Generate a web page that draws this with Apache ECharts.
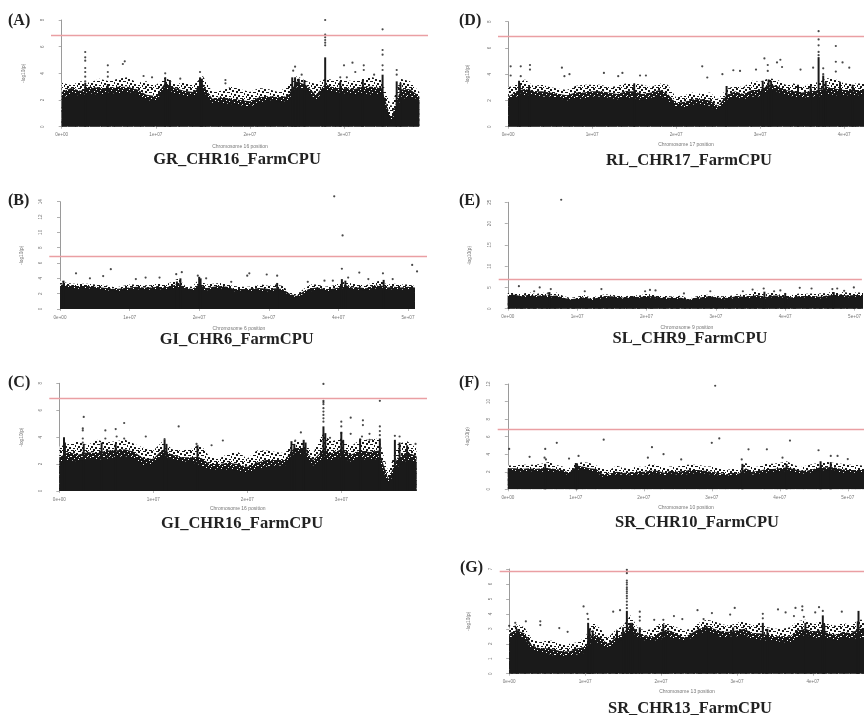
<!DOCTYPE html>
<html><head><meta charset="utf-8">
<style>html,body{margin:0;padding:0;background:#fff;overflow:hidden}#c{width:864px;height:715px;filter:blur(0.65px)}</style>
<script src="https://cdn.jsdelivr.net/npm/echarts@6/dist/echarts.min.js"></script>
</head><body><div id="c"></div>
<script>
// Positions are in units of 1e7 bp, sampled every 0.1 for the band arrays.
const bandA=[2.1,2.5,2.3,2.5,2.4,2.5,2.5,2.6,2.5,2.0,1.9,2.9,2.5,2.3,2.3,2.7,1.8,1.8,1.7,1.6,1.5,1.8,2.0,1.9,1.9,3.0,2.8,2.0,2.8,2.5,2.5,2.4,2.5,2.4,2.5,0.3,2.0,2.3,2.0];
const midA=[2.6,2.9,2.7,3.0,2.9,2.9,3.0,3.0,2.8,2.4,2.3,3.3,2.9,2.7,2.6,3.2,2.1,2.2,2.1,2.0,1.9,2.2,2.3,2.2,2.3,3.4,3.1,2.4,3.2,2.9,2.9,2.8,3.0,3.0,2.9,0.6,2.8,2.8,2.3];
const fringeA=[3.3,3.1,3.4,3.3,3.6,3.4,3.6,3.7,3.3,3.4,3.1,3.7,3.2,3.3,3.1,3.8,2.6,2.7,3.0,2.8,2.6,2.9,2.8,2.6,3.0,3.8,3.4,3.2,3.6,3.5,3.5,3.4,3.6,3.7,3.5,1.5,3.6,3.4,2.6];
const streakA=[[0.25,3.3],[0.49,3.2],[1.1,3.7],[1.15,3.5],[1.47,3.7],[1.49,3.6],[2.45,3.7],[2.48,3.7],[2.52,3.6],[2.58,3.5],[2.8,5.2],[2.96,3.4],[3.2,3.5],[3.41,3.9],[3.56,3.4],[3.6,3.3]];
const pointsA=[[2.8,8],[3.41,7.3],[2.8,6.9],[2.8,6.7],[2.8,6.5],[2.8,6.3],[2.8,6.1],[3.41,5.75],[3.41,5.4],[3.41,4.6],[3.41,4.25],[0.25,5.6],[0.25,5.2],[0.25,4.95],[0.25,4.4],[0.25,4.1],[0.25,3.75],[0.25,3.4],[0.49,4.6],[0.49,4.1],[0.49,3.75],[0.67,4.9],[0.65,4.7],[1.1,4],[1.47,4.1],[2.48,4.5],[2.46,4.2],[2.55,3.9],[1.74,3.5],[1.74,3.25],[3,4.6],[3.09,4.8],[3.21,4.6],[3.21,4.25],[3.12,4.1],[3.56,4.25],[3.56,3.9],[3.32,3.9],[0.87,3.8],[0.96,3.7],[1.26,3.6],[2.96,3.7],[3.03,3.7]];

const bandB=[2.8,2.8,2.7,2.6,2.7,2.6,2.5,2.4,2.3,2.4,2.5,2.6,2.5,2.5,2.6,2.5,2.6,2.7,2.6,2.4,2.7,2.4,2.6,2.7,2.6,2.3,2.4,2.3,2.4,2.3,2.3,2.4,2.3,1.8,1.5,2.0,2.3,2.5,2.3,2.3,2.5,2.7,2.5,2.5,2.4,2.6,2.8,2.5,2.6,2.5,2.6,2.6];
const midB=[3.2,3.1,3.0,3.0,3.0,2.9,2.8,2.7,2.6,2.7,2.8,2.9,2.8,2.8,2.9,2.8,3.0,3.3,2.8,2.6,3.2,2.7,2.9,3.0,2.9,2.6,2.6,2.6,2.7,2.7,2.6,2.7,2.6,2.0,1.7,2.3,2.7,2.8,2.6,2.6,2.8,3.1,2.8,2.8,2.7,3.0,3.1,2.8,2.9,2.8,2.9,2.8];
const fringeB=[3.7,3.4,3.3,3.3,3.3,3.2,3.2,3.0,2.8,3.0,3.2,3.2,3.1,3.1,3.3,3.2,3.5,4.0,3.0,2.9,3.9,3.2,3.3,3.4,3.2,3.0,2.9,2.9,3.0,3.2,3.0,3.2,3.0,2.2,1.9,2.6,3.2,3.2,2.9,3.0,3.3,3.6,3.3,3.2,3.1,3.5,3.7,3.2,3.3,3.2,3.2,3.0];
const streakB=[[0.05,3.7],[1.73,4.0],[2.0,4.2],[2.02,4.0],[1.68,3.6],[3.12,3.4],[4.05,3.9],[4.65,3.8],[4.1,3.7]];
const pointsB=[[3.94,14.7],[4.06,9.6],[4.05,5.25],[5.06,5.75],[5.13,4.9],[0.73,5.2],[0.23,4.65],[0.62,4.3],[1.67,4.55],[1.75,4.8],[2.72,4.65],[2.69,4.35],[2.97,4.5],[3.12,4.35],[4.3,4.75],[4.64,4.65],[4.43,3.9],[4.14,4.1],[1.23,4.1],[1.09,3.9],[1.43,4.1],[2.1,4],[1.98,4.35],[0.43,4],[4.78,3.9],[3.8,3.7],[3.92,3.7],[3.56,3.55],[2.46,3.55]];

const bandC=[2.0,2.3,2.2,2.4,2.3,2.4,2.5,2.6,2.4,1.9,2.0,2.6,2.4,2.2,2.2,1.9,1.6,1.6,1.6,1.5,1.4,1.6,1.8,1.9,1.9,2.7,2.8,1.9,2.4,2.3,2.5,2.2,2.4,2.3,2.4,0.5,1.8,2.3,2.2];
const midC=[2.5,2.9,2.7,2.9,2.8,3.0,3.0,3.1,2.9,2.4,2.4,3.1,2.7,2.5,2.5,2.5,2.0,2.0,2.1,2.0,1.8,2.1,2.3,2.3,2.3,3.2,3.2,2.3,3.0,2.8,3.1,2.7,3.0,2.9,3.0,0.9,2.5,2.9,2.6];
const fringeC=[3.3,3.5,3.7,3.4,3.8,3.6,3.7,3.8,3.5,3.2,3.0,3.7,3.1,3.0,3.1,3.5,2.5,2.4,2.8,2.9,2.4,3.0,3.0,2.9,2.8,3.7,3.6,2.8,4.2,3.7,3.9,3.3,3.8,3.8,3.9,1.4,3.5,3.7,3.2];
const streakC=[[0.05,4.0],[0.06,3.6],[0.26,3.5],[0.45,3.6],[0.6,3.5],[1.12,3.8],[1.14,3.5],[1.47,3.4],[2.47,3.7],[2.5,3.5],[2.6,3.8],[2.62,3.6],[2.81,4.8],[2.83,4.3],[3.0,4.4],[3.02,3.8],[3.2,3.9],[3.41,3.9],[3.57,3.8],[3.62,3.6],[3.7,3.4]];
const pointsC=[[2.81,7.95],[3.41,6.7],[2.81,6.7],[2.81,6.6],[2.81,6.45],[2.81,6.15],[2.81,5.9],[2.81,5.65],[2.81,5.4],[2.81,5.15],[0.26,5.5],[0.25,4.65],[0.25,4.5],[0.25,3.9],[0.25,3.6],[0.49,4.5],[0.49,3.9],[0.6,4.6],[0.69,5.05],[0.61,4.05],[0.69,3.9],[0.92,4.05],[1.27,4.8],[1.74,3.75],[1.12,3.85],[1.62,3.4],[1.46,3.5],[2.57,4.35],[2.51,3.75],[3,5.15],[3,4.8],[3,4.3],[3.1,5.45],[3.1,4.25],[3.23,5.25],[3.23,4.9],[3.22,4.05],[3.3,4.25],[3.3,3.8],[3.41,4.8],[3.41,4.45],[3.41,4.15],[3.57,4.1],[3.62,4.05],[3.79,3.5],[2.88,3.95]];

const bandD=[1.9,2.3,2.4,2.4,2.3,2.3,2.2,2.0,2.2,2.1,2.3,2.3,2.2,2.1,2.2,2.2,2.0,2.2,2.4,2.0,1.5,1.5,1.7,1.7,1.6,1.3,2.0,2.3,2.1,2.3,2.3,2.7,2.7,2.4,2.3,2.2,2.3,2.3,2.5,2.4,2.4,2.4,2.4,2.4];
const midD=[2.3,2.7,2.9,2.7,2.7,2.6,2.5,2.4,2.6,2.6,2.7,2.7,2.6,2.5,2.7,2.7,2.5,2.6,2.8,2.5,1.8,1.9,2.1,2.1,2.0,1.6,2.4,2.7,2.5,2.8,2.8,3.2,3.1,2.8,2.7,2.6,2.7,2.8,3.0,2.9,2.8,2.8,2.8,2.8];
const fringeD=[3.0,3.2,3.6,3.1,3.2,3.0,2.9,2.8,3.1,3.2,3.2,3.2,3.0,3.1,3.3,3.3,3.2,3.0,3.3,3.2,2.2,2.4,2.6,2.5,2.6,2.1,2.9,3.1,3.0,3.5,3.4,3.7,3.6,3.2,3.3,3.0,3.3,3.4,3.7,3.6,3.3,3.3,3.3,3.3];
const streakD=[[0.13,3.5],[0.14,3.3],[0.25,3.1],[1.5,3.3],[2.6,3.1],[3.03,3.5],[3.1,3.6],[3.13,3.5],[3.45,3.2],[3.6,3.1],[3.695,5.3],[3.75,3.9],[3.78,3.4],[3.95,3.4],[4.1,3.2]];
const pointsD=[[0.03,4.6],[0.03,3.9],[0.15,4.6],[0.15,3.85],[0.26,4.7],[0.26,4.35],[0.64,4.5],[0.67,3.85],[0.73,4],[1.14,4.1],[1.36,4.1],[1.31,3.85],[1.57,3.9],[1.64,3.9],[2.31,4.6],[2.37,3.75],[2.55,4],[2.68,4.3],[2.76,4.25],[2.95,4.35],[3.05,5.2],[3.09,4.7],[3.09,4.25],[3.2,4.9],[3.24,5.1],[3.26,4.55],[3.48,4.35],[3.63,4.5],[3.695,7.28],[3.695,6.65],[3.695,6.2],[3.695,5.7],[3.695,5.45],[3.9,6.15],[3.9,4.95],[3.98,4.9],[4.06,4.5],[3.9,4.2],[3.75,4.45],[3.75,4]];

const bandE=[2.9,3.0,2.6,2.9,2.7,2.8,2.7,2.7,2.3,2.0,2.1,2.4,2.0,2.3,2.5,2.6,2.5,2.3,2.6,2.4,2.7,2.6,2.3,2.3,2.2,2.3,1.9,2.2,2.4,2.6,2.4,2.2,2.3,2.6,2.5,2.5,2.7,2.4,2.7,2.8,2.5,2.4,2.6,2.7,2.5,2.4,2.7,2.8,2.9,2.7,2.8,2.8,2.8];
const midE=[3.2,3.3,2.9,3.3,3.0,3.2,3.0,3.1,2.6,2.2,2.4,2.7,2.3,2.6,2.9,2.9,2.7,2.6,2.9,2.7,3.0,2.9,2.6,2.6,2.5,2.6,2.1,2.5,2.7,2.9,2.7,2.5,2.6,3.0,2.8,2.9,3.2,2.7,3.1,3.1,2.8,2.7,3.0,3.0,2.9,2.8,3.1,3.2,3.3,3.1,3.2,3.2,3.2];
const fringeE=[3.7,3.7,3.4,3.9,3.4,3.8,3.3,3.8,3.0,2.5,2.8,3.2,2.6,3.0,3.4,3.2,3.1,2.9,3.2,3.1,3.5,3.3,3.0,3.0,2.8,3.1,2.3,2.8,3.2,3.3,3.0,2.9,3.0,3.4,3.2,3.6,4.2,3.3,3.8,3.4,3.2,3.2,3.6,3.5,3.6,3.6,3.7,4.1,3.9,3.8,3.8,3.8,3.8];
const streakE=[[0.6,3.9],[3.7,4.0],[4.0,3.7],[4.7,3.9]];
const pointsE=[[0.77,25.6],[0.16,5.3],[0.46,5],[0.38,4.1],[0.62,4.6],[0.58,3.6],[1.11,4.1],[1.35,4.6],[1.98,4.1],[2.05,4.4],[2.13,4.3],[2.54,3.6],[2.92,4.1],[3.53,4.5],[3.39,4.1],[3.69,4.75],[4.21,4.9],[4.38,4.75],[4.75,4.75],[4.68,4.6],[4.99,5],[4.85,4.2],[3.84,4.1],[3.93,4.3]];

const bandF=[2.2,2.1,2.0,2.1,2.0,2.0,2.0,2.0,1.9,1.6,2.3,2.2,2.1,2.0,1.4,1.6,1.7,1.7,1.6,1.7,1.7,1.7,1.8,1.6,1.8,1.7,1.7,1.8,1.8,1.8,1.7,1.6,1.5,1.7,1.6,2.0,1.7,1.8,1.9,2.0,2.0,2.1,2.0,1.8,1.8,2.0,2.2,2.1,2.2,1.9,1.9,1.9,1.9,1.9];
const midF=[2.4,2.4,2.3,2.4,2.3,2.4,2.4,2.3,2.2,1.9,2.5,2.6,2.4,2.3,1.7,1.8,2.0,1.9,1.9,2.0,2.0,2.1,2.1,1.9,2.1,2.0,2.1,2.2,2.2,2.1,2.0,1.9,1.7,1.9,1.8,2.4,2.0,2.1,2.3,2.3,2.4,2.5,2.3,2.1,2.1,2.3,2.5,2.5,2.5,2.3,2.2,2.2,2.2,2.2];
const fringeF=[2.7,2.7,2.8,2.8,2.8,2.9,3.1,2.8,2.6,2.4,2.9,3.1,3.0,2.7,2.4,2.2,2.7,2.4,2.4,2.6,2.5,2.9,2.7,2.5,2.6,2.6,2.8,2.8,2.8,2.6,2.6,2.4,2.2,2.3,2.3,3.0,2.5,2.6,2.9,2.9,3.0,3.2,2.8,2.5,2.7,2.9,3.0,3.1,3.0,2.9,2.8,2.8,2.7,2.7];
const streakF=[[1.0,3.0],[1.02,2.8],[3.45,2.9],[4.1,2.9],[4.6,3.2],[4.75,3.1],[0.55,2.9]];
const pointsF=[[3.05,11.8],[3.11,5.8],[3,5.3],[0.02,4.6],[0.55,4.6],[0.72,5.3],[1.41,5.65],[2.12,4.8],[2.29,4],[3.54,4.55],[3.81,4.55],[4.15,5.55],[4.57,4.45],[0.54,3.6],[0.56,3.4],[2.06,3.6],[0.32,3.7],[1.04,3.8],[4.75,3.8],[4.85,3.8],[3.44,3.4],[4.04,3.6],[2.55,3.4],[5,3.45],[0.9,3.5]];

const bandG=[2.4,2.6,2.4,1.6,1.4,1.35,1.2,1.2,1.2,1.3,1.4,2.2,2.0,1.7,2.0,2.3,2.9,2.4,2.2,2.2,2.3,2.5,2.3,2.1,2.4,2.7,2.8,2.7,2.4,2.5,2.5,2.6,2.3,2.3,2.2,2.2,2.1,2.1,2.4,2.6,2.4,2.4,2.3,2.2,2.4,2.3,2.4,2.4];
const midG=[2.7,2.9,2.7,1.9,1.7,1.7,1.6,1.5,1.5,1.7,1.8,2.7,2.4,2.0,2.4,2.7,3.3,2.7,2.5,2.5,2.8,2.9,2.7,2.4,2.7,3.0,3.1,3.0,2.8,2.8,2.9,3.0,2.7,2.7,2.6,2.5,2.5,2.5,2.9,3.0,2.8,2.9,2.7,2.6,2.8,2.7,3.0,3.0];
const fringeG=[3.0,3.3,3.1,2.3,2.1,2.2,2.2,1.9,2.0,2.1,2.4,3.5,3.0,2.4,2.9,3.2,3.9,3.0,2.9,3.0,3.4,3.3,3.1,2.9,3.0,3.4,3.6,3.5,3.3,3.2,3.4,3.5,3.2,3.4,3.1,3.0,3.0,3.1,3.5,3.6,3.3,3.5,3.3,3.2,3.4,3.2,3.6,3.6];
const streakG=[[0.1,3.0],[1.04,3.4],[1.06,3.0],[1.1,2.9],[1.42,2.9],[1.5,3.1],[1.55,4.2],[1.6,3.4],[1.62,3.4],[1.72,3.1],[2.03,3.3],[2.06,2.9],[2.5,3.0],[2.6,3.2],[2.95,3.1],[3.34,3.4],[3.4,3.0],[3.9,3.4],[4.13,3.9],[4.15,3.3],[4.59,3.5],[4.6,4.2]];
const pointsG=[[1.55,6.95],[1.55,6.83],[1.55,6.72],[1.55,6.23],[1.55,6.09],[1.55,5.96],[1.55,5.78],[1.55,5.65],[1.55,5.51],[1.55,5.38],[1.55,5.2],[1.55,5.04],[1.55,4.82],[1.55,4.6],[1.55,4.38],[0.98,4.5],[1.03,4],[1.04,3.65],[1.37,4.15],[1.46,4.25],[1.72,4.15],[1.72,3.8],[1.72,3.55],[2.48,4.25],[2.67,4.05],[2.97,4.4],[2.91,3.95],[3.34,4],[3.34,3.7],[3.54,4.3],[3.64,4.1],[3.77,4.4],[3.86,4.5],[3.86,4.25],[3.75,3.85],[3.88,3.8],[4.08,4.45],[4.13,4.2],[4.03,4.1],[4.38,4.15],[0.08,3.4],[0.08,3.15],[0,3.2],[0.22,3.5],[0.41,3.5],[0.41,3.25],[0.66,3.05],[0.77,2.8],[2.28,3.65],[2.17,3.85],[2.56,3.65],[2.03,3.6],[1.91,3.6]];
const gapG=[0.33,0.407];

const thresholds={A:6.88,B:6.82,C:6.89,D:6.9,E:6.95,F:6.9,G:6.85};
const yTickSteps={A:2,B:2,C:2,D:2,E:5,F:2,G:1};
const yTops={A:8,B:14,C:8,D:8,E:25,F:12,G:7};
const xTicks={A:[0,1,2,3],B:[0,1,2,3,4,5],C:[0,1,2,3],D:[0,1,2,3,4],E:[0,1,2,3,4,5],F:[0,1,2,3,4,5],G:[0,1,2,3,4]};
const chrNames={A:'Chromosome 16 position',B:'Chromosome 6 position',C:'Chromosome 16 position',D:'Chromosome 17 position',E:'Chromosome 9 position',F:'Chromosome 10 position',G:'Chromosome 13 position'};
const plotTitles={A:'GR_CHR16_FarmCPU',B:'GI_CHR6_FarmCPU',C:'GI_CHR16_FarmCPU',D:'RL_CHR17_FarmCPU',E:'SL_CHR9_FarmCPU',F:'SR_CHR10_FarmCPU',G:'SR_CHR13_FarmCPU'};
const bands={A:bandA,B:bandB,C:bandC,D:bandD,E:bandE,F:bandF,G:bandG};
const mids={A:midA,B:midB,C:midC,D:midD,E:midE,F:midF,G:midG};
const fringes={A:fringeA,B:fringeB,C:fringeC,D:fringeD,E:fringeE,F:fringeF,G:fringeG};
const streaks={A:streakA,B:streakB,C:streakC,D:streakD,E:streakE,F:streakF,G:streakG};
const pointSets={A:pointsA,B:pointsB,C:pointsC,D:pointsD,E:pointsE,F:pointsF,G:pointsG};

// layout only (pixels)
const layout={
 A:{ax:51,x0:61.7,per:94.1,top:20,zero:126.7,right:428,lx:8,ly:21,tx:237,ty:160,nx:240,ny:147,yn:25},
 B:{ax:49.3,x0:60,per:69.6,top:201.7,zero:309,right:427,lx:8,ly:200.7,tx:236.7,ty:340,nx:239,ny:328.7,yn:25},
 C:{ax:49.3,x0:59.3,per:94,top:383.3,zero:491,right:427,lx:8,ly:382.7,tx:242,ty:524,nx:237.7,ny:509,yn:25},
 D:{ax:498,x0:508.3,per:85.4,top:21.7,zero:126.7,right:870,lx:459,ly:21,tx:689,ty:161,nx:686,ny:145,yn:28},
 E:{ax:498.7,x0:508,per:70.9,top:202.3,zero:308.7,right:870,lx:459,ly:200.7,tx:690,ty:339,nx:687,ny:327.7,yn:27},
 F:{ax:497.7,x0:508,per:69.1,top:384,zero:489.3,right:870,lx:459,ly:382.7,tx:697,ty:523,nx:686,ny:507.7,yn:28},
 G:{ax:499.7,x0:509.3,per:77.2,top:569,zero:673.7,right:870,lx:460,ly:567.7,tx:690,ty:709,nx:687,ny:692,yn:29}
};

// textures: a dense one just above the solid band and a sparse one at the top of the cloud
function makeTile(w,h,bg,fg,rects){const t=document.createElement('canvas');t.width=w;t.height=h;const c=t.getContext('2d');c.fillStyle=bg;c.fillRect(0,0,w,h);c.fillStyle=fg;rects.forEach(r=>c.fillRect(r[0],r[1],r[2],r[3]));return t;}
const denseTile=makeTile(11,9,'#1a1a1a','#fff',[[1,0,1,1],[6,1,1,1],[9,2,1,1],[3,3,1,1],[0,5,1,1],[7,4,1,1],[4,6,2,1],[10,6,1,1],[2,7,1,1],[8,8,1,1]]);
const sparseTile=makeTile(13,11,'#fff','#1a1a1a',[[0,0,3,1],[4,1,2,2],[8,0,2,2],[11,2,2,2],[2,3,2,2],[6,4,3,1],[10,5,1,2],[0,6,2,2],[4,7,2,2],[8,8,2,1],[12,8,1,2],[2,9,2,2],[6,10,3,1],[10,10,1,1]]);

const ink='#1a1a1a',axisGray='#9a9a9a',labelGray='#777';
const keys=Object.keys(layout);
const grid=[],xAxis=[],yAxis=[],series=[],title=[];
keys.forEach((k,i)=>{
 const L=layout[k];
 grid.push({left:L.ax,top:L.top,width:L.right-L.ax,height:L.zero-L.top});
 const xMin=(L.ax-L.x0)/L.per,xMax=xMin+(L.right-L.ax)/L.per;
 xAxis.push({gridIndex:i,type:'value',min:xMin,max:xMax,splitLine:{show:false},axisLine:{show:false},
  axisTick:{show:true,length:2,customValues:xTicks[k],lineStyle:{color:axisGray,width:0.7}},
  axisLabel:{customValues:xTicks[k],margin:6,fontSize:4.6,color:labelGray,fontFamily:'Liberation Sans',
   formatter:v=>v===0?'0e+00':v+'e+07'}});
 yAxis.push({gridIndex:i,type:'value',min:0,max:yTops[k],interval:yTickSteps[k],splitLine:{show:false},
  name:'-log10(p)',nameLocation:'middle',nameGap:L.yn,nameRotate:90,
  nameTextStyle:{fontSize:4.8,color:labelGray,fontFamily:'Liberation Sans'},
  axisLine:{show:true,lineStyle:{color:axisGray,width:1}},
  axisTick:{show:true,length:3,lineStyle:{color:axisGray,width:0.8}},
  axisLabel:{margin:6,fontSize:4.6,color:labelGray,rotate:90,fontFamily:'Liberation Sans'}});
 const toPairs=a=>a.map((v,j)=>[j/10,v]);
 const area=(arr,z,fill)=>({type:'line',xAxisIndex:i,yAxisIndex:i,showSymbol:false,silent:true,z,
  data:toPairs(arr),lineStyle:{width:0},areaStyle:{color:fill,opacity:1}});
 series.push(area(fringes[k],1,{image:sparseTile,repeat:'repeat'}));
 series.push(area(mids[k],2,{image:denseTile,repeat:'repeat'}));
 const solid=area(bands[k],3,ink);
 solid.markLine={silent:true,symbol:'none',label:{show:false},lineStyle:{color:'#ea9fa3',width:1.3,type:'solid'},data:[{yAxis:thresholds[k]}]};
 series.push(solid);
 series.push({type:'bar',xAxisIndex:i,yAxisIndex:i,data:streaks[k],barWidth:2,silent:true,z:3,itemStyle:{color:ink}});
 series.push({type:'scatter',xAxisIndex:i,yAxisIndex:i,data:pointSets[k],symbolSize:2.2,clip:false,silent:true,z:4,itemStyle:{color:ink}});
 if(k==='G')series.push({type:'line',xAxisIndex:i,yAxisIndex:i,data:[],z:5,silent:true,
  markArea:{silent:true,itemStyle:{color:'#fff',opacity:1},data:[[{xAxis:gapG[0]},{xAxis:gapG[1]}]]}});
 title.push({text:'('+k+')',left:L.lx,top:L.ly,padding:0,textAlign:'left',textVerticalAlign:'middle',
  textStyle:{fontFamily:'Liberation Serif',fontWeight:'bold',fontSize:16,color:'#222'}});
 title.push({text:plotTitles[k],left:L.tx,top:L.ty,padding:0,textAlign:'center',textVerticalAlign:'middle',
  textStyle:{fontFamily:'Liberation Serif',fontWeight:'bold',fontSize:16.5,color:'#222'}});
 title.push({text:chrNames[k],left:L.nx,top:L.ny,padding:0,textAlign:'center',textVerticalAlign:'middle',
  textStyle:{fontFamily:'Liberation Sans',fontWeight:'normal',fontSize:5,color:labelGray}});
});
const chart=echarts.init(document.getElementById('c'),null,{renderer:'canvas'});
chart.setOption({animation:false,backgroundColor:'#fff',title,grid,xAxis,yAxis,series});
</script></body></html>
